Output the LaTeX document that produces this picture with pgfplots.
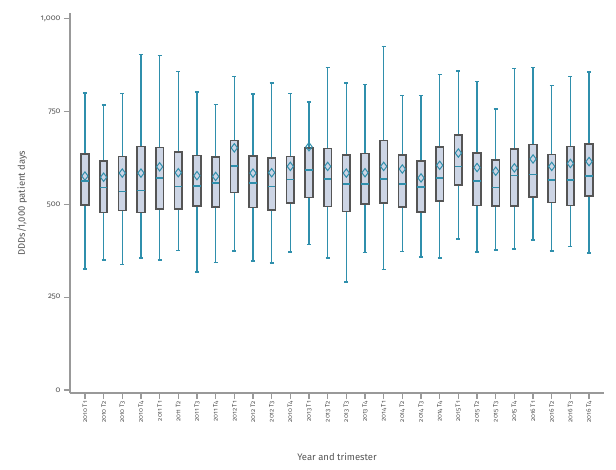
\documentclass[border=0pt]{standalone}
\usepackage{fontspec}
\setmainfont{Fira Sans}
\newfontfamily\oldfont[Numbers=OldStyle]{Fira Sans}
\usepackage{pgfplots}
\pgfplotsset{compat=1.18}
\usepgfplotslibrary{statistics}
\usepackage{pgfplotstable}
\definecolor{wteal}{HTML}{2F8FAC}
\definecolor{boxfill}{HTML}{CDD5E5}
\definecolor{boxedge}{HTML}{555555}
\definecolor{axgray}{HTML}{999999}
\definecolor{txtgray}{HTML}{555555}
\pgfplotstableread{
idx mean
0 576
1 573
2 584
3 584
4 601
5 585
6 577
7 575
8 652
9 584
10 585
11 602
12 655
13 602
14 584
15 585
16 602
17 595
18 571
19 605
20 638
21 599
22 589
23 598
24 622
25 602
26 610
27 615
}\means
\newcommand{\bx}[6]{\addplot[boxplot prepared={draw position=#1, lower whisker=#2, lower quartile=#3, median=#4, upper quartile=#5, upper whisker=#6}] coordinates {};}
\begin{document}
\begin{tikzpicture}
\useasboundingbox (0,0) rectangle (616bp,470bp);
\begin{axis}[
  at={(70bp,77bp)}, anchor=south west,
  scale only axis, width=534bp, height=380bp,
  xmin=-0.8, xmax=27.8, ymin=-8, ymax=1015,
  axis lines=left, axis line style={draw=axgray, line width=1.5pt, -},
  tick align=outside, major tick length=6bp,
  tick style={draw=axgray, line width=1.2pt},
  xtick={0,...,27},
  xticklabels={2010 T1,2010 T2,2010 T3,2010 T4,2011 T1,2011 T2,2011 T3,2011 T4,2012 T1,2012 T2,2012 T3,2010 T4,2013 T1,2013 T2,2013 T3,2013 T4,2014 T1,2014 T2,2014 T3,2014 T4,2015 T1,2015 T2,2015 T3,2015 T4,2016 T1,2016 T2,2016 T3,2016 T4},
  x tick label style={rotate=90, anchor=east, font=\oldfont\fontsize{6.5}{7.5}\selectfont, text=txtgray, inner sep=2pt},
  ytick={0,250,500,750,1000},
  yticklabels={0,250,500,750,{1,000}},
  y tick label style={font=\oldfont\fontsize{8}{9}\selectfont, text=txtgray},
  ylabel={DDDs/1,000 patient days},
  ylabel style={at={(axis description cs:-0.0899,0.5)}, anchor=center, font=\fontsize{9.5}{11}\selectfont, text=txtgray},
  xlabel={Year and trimester},
  xlabel style={at={(axis description cs:0.5,-0.168)}, anchor=center, font=\fontsize{9.5}{11}\selectfont, text=txtgray},
  boxplot/draw direction=y,
  boxplot/box extend=0.4,
  boxplot/whisker extend=0.22,
  boxplot/every box/.style={draw=boxedge, fill=boxfill, line width=1.7pt},
  boxplot/every whisker/.style={draw=wteal, line width=1.5pt},
  boxplot/every median/.style={draw=wteal, line width=1.6pt},
]
\bx{0}{326}{498}{563}{635}{799}
\bx{1}{350}{478}{545}{616}{767}
\bx{2}{338}{483}{534}{629}{798}
\bx{3}{355}{478}{537}{656}{903}
\bx{4}{350}{487}{570}{653}{900}
\bx{5}{375}{487}{548}{640}{857}
\bx{6}{318}{496}{550}{631}{802}
\bx{7}{343}{493}{557}{627}{769}
\bx{8}{374}{532}{603}{672}{844}
\bx{9}{347}{491}{558}{630}{797}
\bx{10}{342}{485}{548}{624}{827}
\bx{11}{372}{503}{567}{629}{798}
\bx{12}{392}{518}{593}{651}{776}
\bx{13}{356}{494}{568}{650}{868}
\bx{14}{291}{481}{554}{632}{827}
\bx{15}{370}{501}{554}{637}{823}
\bx{16}{325}{504}{568}{672}{925}
\bx{17}{373}{492}{554}{632}{793}
\bx{18}{358}{479}{546}{617}{793}
\bx{19}{355}{508}{571}{654}{849}
\bx{20}{406}{552}{602}{687}{859}
\bx{21}{371}{497}{562}{639}{831}
\bx{22}{377}{496}{545}{619}{756}
\bx{23}{379}{495}{578}{649}{865}
\bx{24}{404}{519}{580}{661}{868}
\bx{25}{374}{505}{565}{634}{820}
\bx{26}{386}{497}{565}{656}{844}
\bx{27}{369}{522}{576}{663}{856}
\addplot[only marks, mark=diamond, mark size=4.2pt, mark options={draw=wteal, fill=none, line width=1pt}] table[x=idx, y=mean]{\means};
\end{axis}
\end{tikzpicture}
\end{document}
